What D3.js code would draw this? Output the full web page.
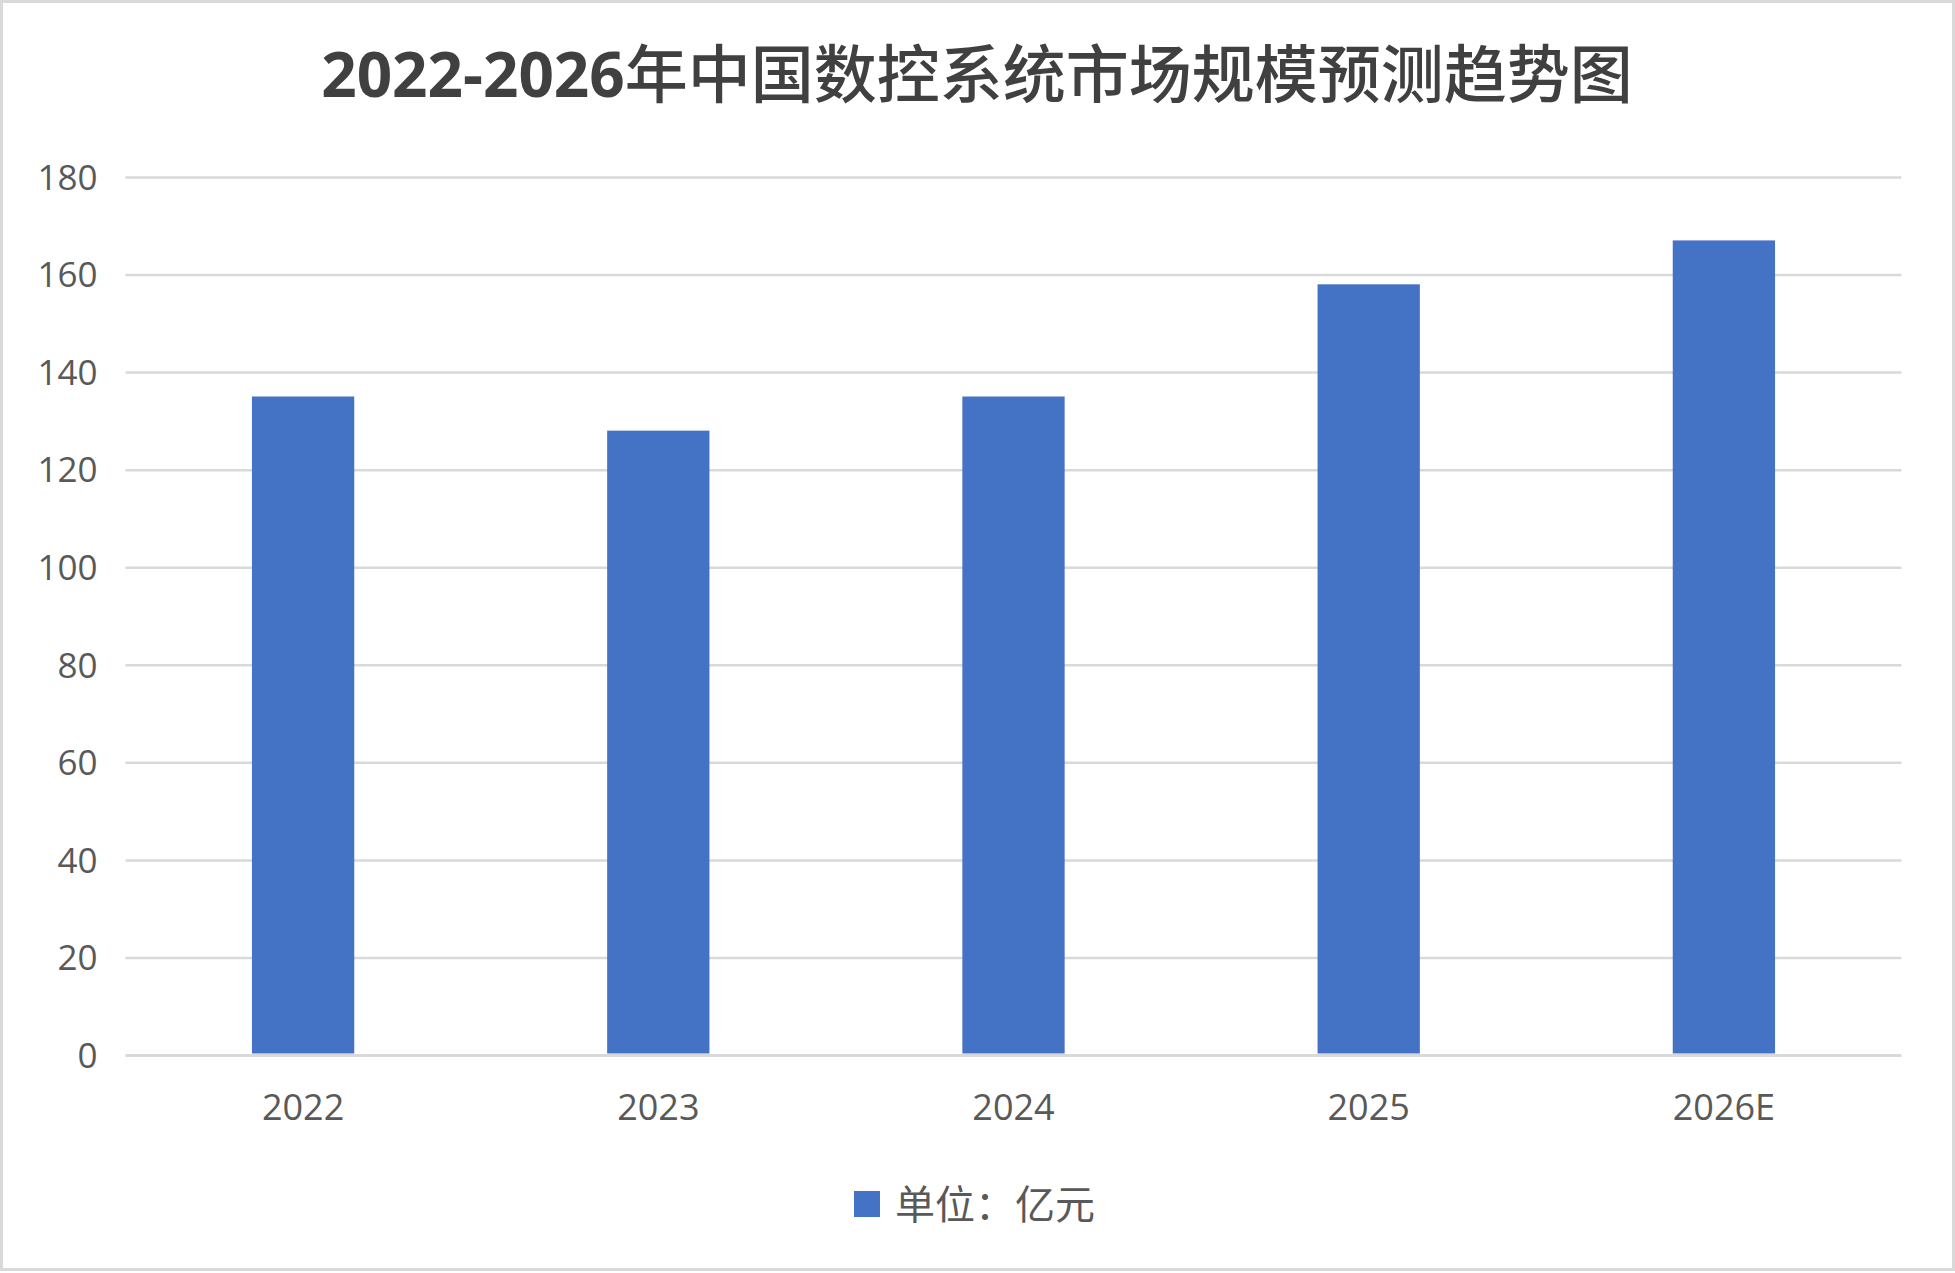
<!DOCTYPE html>
<html>
<head>
<meta charset="utf-8">
<script src="https://cdn.jsdelivr.net/npm/d3@7/dist/d3.min.js"></script>
<style>
  html, body { margin: 0; padding: 0; background: #fff; }
  svg { display: block; }
</style>
</head>
<body>
<svg id="chart" width="1955" height="1273"></svg>
<script>
// ---- data ----
const categories = ["2022", "2023", "2024", "2025", "2026E"];
const values = [135, 128, 135, 158, 167];
const yTicks = [0, 20, 40, 60, 80, 100, 120, 140, 160, 180];
const titleNum = "2022-2026";
const titleText = "年中国数控系统市场规模预测趋势图";
const legendLabel = "单位：亿元";

// ---- layout ----
const W = 1955, H = 1273;
const plot = { left: 125.5, right: 1901.5, top: 177, bottom: 1055 };
const barColor = "#4472C4";
const gridColor = "#d9d9d9";
const textColor = "#595959";
const tickFont = "'Open Sans', 'Noto Sans', sans-serif";
const cjkFont = "'Noto Sans CJK SC', sans-serif";

const svg = d3.select("#chart");

// background + outer border
svg.append("rect").attr("x", 1.5).attr("y", 1.5).attr("width", W - 3).attr("height", H - 5)
  .attr("fill", "#fff").attr("stroke", gridColor).attr("stroke-width", 3);

// scales
const x = d3.scaleBand().domain(categories).range([plot.left, plot.right])
  .paddingInner(0.712).paddingOuter(0.356);
const y = d3.scaleLinear().domain([0, 180]).range([plot.bottom, plot.top]);

// gridlines via axis
const grid = svg.append("g").attr("transform", `translate(${plot.left},0)`)
  .call(d3.axisLeft(y).tickValues(yTicks).tickSize(-(plot.right - plot.left)).tickFormat(""));
grid.select(".domain").remove();
grid.selectAll(".tick line").attr("stroke", gridColor)
  .attr("stroke-width", d => d === 0 ? 3 : 2.5);

// y tick labels
const yAxis = svg.append("g").attr("transform", `translate(${plot.left - 28},0)`)
  .call(d3.axisLeft(y).tickValues(yTicks).tickSize(0).tickPadding(0));
yAxis.select(".domain").remove();
yAxis.selectAll(".tick text").attr("fill", textColor)
  .style("font-family", tickFont).style("font-size", "35px").attr("dy", "0.35em");

// bars
svg.append("g").selectAll("rect").data(values).join("rect")
  .attr("x", (d, i) => x(categories[i]))
  .attr("width", x.bandwidth())
  .attr("y", d => y(d))
  .attr("height", d => y(0) - y(d) - 1.5)
  .attr("fill", barColor);

// x axis labels
const xAxis = svg.append("g").attr("transform", `translate(0,${plot.bottom})`)
  .call(d3.axisBottom(x).tickSize(0).tickPadding(0));
xAxis.select(".domain").remove();
xAxis.selectAll(".tick text").attr("fill", textColor)
  .style("font-family", tickFont).style("font-size", "36px")
  .attr("y", 52).attr("dy", "0.35em");

// title
const title = svg.append("text").attr("x", 977).attr("y", 97)
  .attr("text-anchor", "middle").attr("fill", "#404040");
title.append("tspan").text(titleNum)
  .style("font-family", "'Open Sans', 'Noto Sans', sans-serif").style("font-weight", "bold").style("font-size", "62px");
title.append("tspan").text(titleText)
  .style("font-family", cjkFont).style("font-weight", "500").style("font-size", "63px");

// legend
const lg = svg.append("g");
lg.append("rect").attr("x", 854).attr("y", 1191).attr("width", 26).attr("height", 26).attr("fill", barColor);
lg.append("text").attr("x", 895).attr("y", 1205).attr("dy", "0.36em")
  .attr("fill", textColor).style("font-family", cjkFont).style("font-size", "40px")
  .text(legendLabel);
</script>
</body>
</html>
